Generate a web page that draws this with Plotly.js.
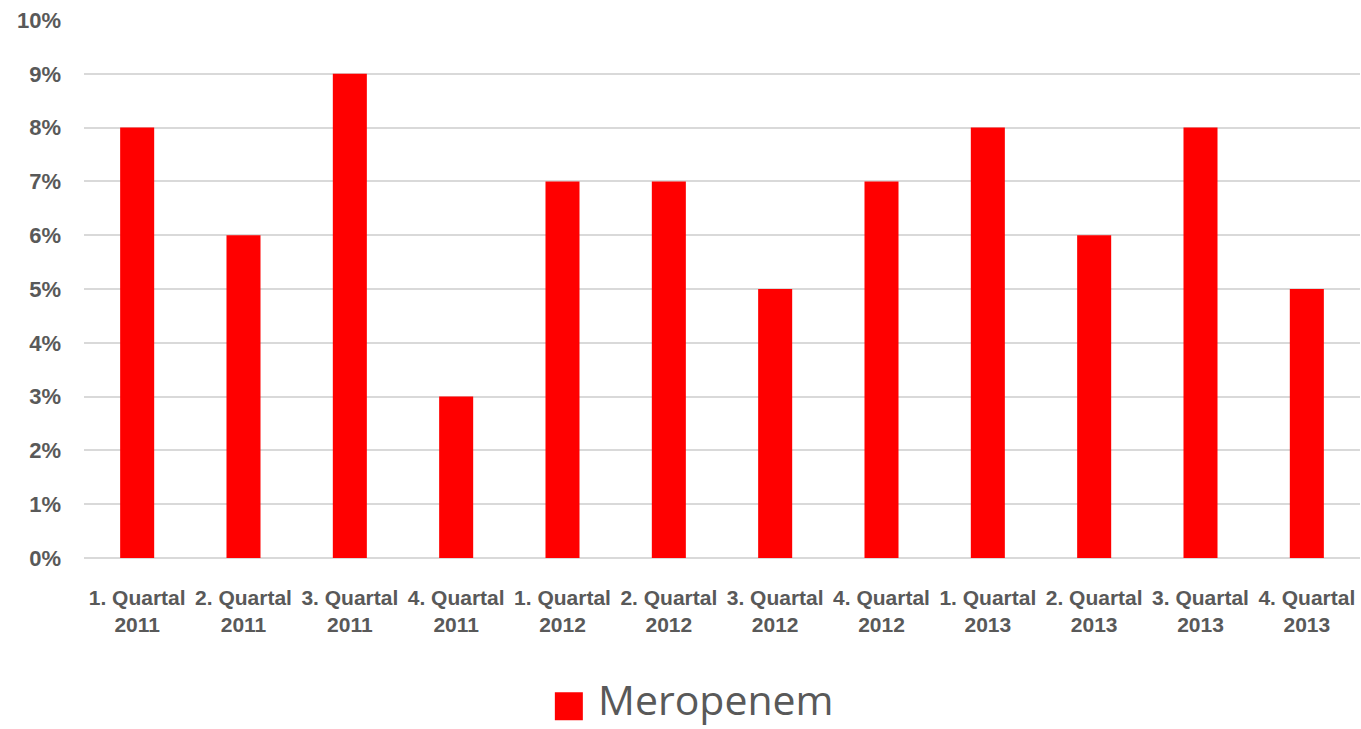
<!DOCTYPE html>
<html><head><meta charset="utf-8">
<script src="https://cdn.plot.ly/plotly-3.0.1.min.js"></script>
<style>body{margin:0;background:#fff}#c{width:1361px;height:729px}</style>
</head><body><div id="c"></div>
<script>
const categories = ["1. Quartal<br>2011","2. Quartal<br>2011","3. Quartal<br>2011","4. Quartal<br>2011","1. Quartal<br>2012","2. Quartal<br>2012","3. Quartal<br>2012","4. Quartal<br>2012","1. Quartal<br>2013","2. Quartal<br>2013","3. Quartal<br>2013","4. Quartal<br>2013"];
const meropenem = [0.08,0.06,0.09,0.03,0.07,0.07,0.05,0.07,0.08,0.06,0.08,0.05];
const seriesName = "Meropenem";
const seriesColor = "#ff0000";
const tickVals = [0,0.01,0.02,0.03,0.04,0.05,0.06,0.07,0.08,0.09,0.10];

const xTickFont = {family:"Liberation Sans, sans-serif", size:21, color:"#595959", weight:700};
const yTickFont = {family:"Liberation Sans, sans-serif", size:22, color:"#595959", weight:700};
Plotly.newPlot("c", [{
  type:"bar", x:categories, y:meropenem, name:seriesName,
  marker:{color:seriesColor}, hoverinfo:"none", showlegend:false
}], {
  width:1361, height:729,
  margin:{l:84, r:1, t:20, b:171},
  paper_bgcolor:"#fff", plot_bgcolor:"#fff",
  bargap:0.68,
  showlegend:false,
  xaxis:{tickfont:xTickFont, showgrid:false, zeroline:false, showline:false, ticks:"", ticklabelstandoff:25, automargin:false, fixedrange:true},
  yaxis:{range:[0,0.1], tickvals:tickVals, tickformat:".0%", tickfont:yTickFont, gridcolor:"#d9d9d9", gridwidth:2, zeroline:true, zerolinecolor:"#d9d9d9", zerolinewidth:2, ticks:"", ticklabelstandoff:22, automargin:false, fixedrange:true},
  shapes:[{type:"rect", xref:"paper", yref:"paper", xsizemode:"pixel", ysizemode:"pixel", xanchor:0.369, yanchor:-0.2737, x0:0, x1:28, y0:-15, y1:13, fillcolor:seriesColor, line:{width:0}}],
  annotations:[{text:seriesName, xref:"paper", yref:"paper", x:0.4015, y:-0.2737, yshift:6, xanchor:"left", yanchor:"middle", showarrow:false, font:{family:"Open Sans, sans-serif", size:41, color:"#595959"}}]
}, {displayModeBar:false, staticPlot:true});
</script></body></html>
